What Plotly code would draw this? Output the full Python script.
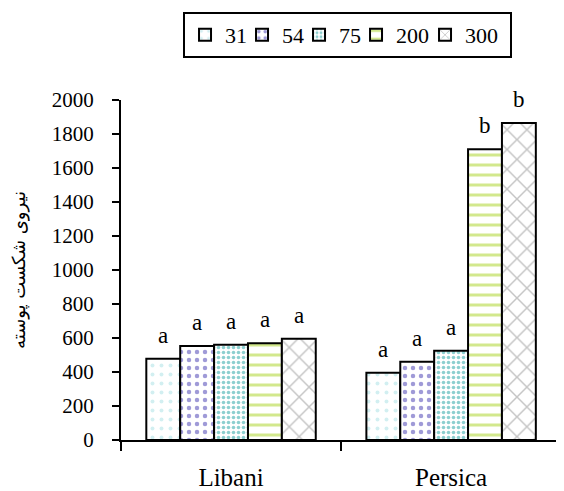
import plotly.graph_objects as go

categories = ["Libani", "Persica"]
series_names = ["31", "54", "75", "200", "300"]
values = {
    "31": [478, 396],
    "54": [553, 461],
    "75": [561, 525],
    "200": [569, 1710],
    "300": [596, 1865],
}
letters = {
    "31": ["a", "a"],
    "54": ["a", "a"],
    "75": ["a", "a"],
    "200": ["a", "b"],
    "300": ["a", "b"],
}
y_ticks = [0, 200, 400, 600, 800, 1000, 1200, 1400, 1600, 1800, 2000]
y_title = "نیروی شکست پوسته"

styles = {
    "31": dict(shape=".", fgcolor="#a6dfe3", size=9, solidity=0.15),
    "54": dict(shape=".", fgcolor="#3f35b0", size=8, solidity=0.25),
    "75": dict(shape=".", fgcolor="#1a9fa0", size=5, solidity=0.4),
    "200": dict(shape="-", fgcolor="#a6d11c", size=10, solidity=0.3),
    "300": dict(shape="x", fgcolor="#8c8c8c", size=14, solidity=0.2),
}
legend_widths = {"31": 12, "54": 12, "75": 12, "200": 24, "300": 40}

FONT = "Liberation Serif"
BARGAP = 0.23
fig = go.Figure()
n = len(series_names)
bar_w = (1 - BARGAP) / n
for i, name in enumerate(series_names):
    st = styles[name]
    fig.add_trace(go.Bar(
        name=name,
        x=categories,
        y=values[name],
        legendwidth=legend_widths[name],
        marker=dict(
            color="white",
            line=dict(color="black", width=2),
            pattern=dict(shape=st["shape"], fgcolor=st["fgcolor"], bgcolor="white",
                         size=st["size"], solidity=st["solidity"], fillmode="overlay"),
        ),
    ))
    offset = -(1 - BARGAP) / 2 + bar_w * (i + 0.5)
    for j, cat in enumerate(categories):
        fig.add_annotation(
            x=j + offset, y=values[name][j], text=letters[name][j],
            showarrow=False, yanchor="bottom", yshift=9,
            font=dict(family=FONT, size=23, color="black"),
        )

fig.update_layout(
    width=556, height=483,
    paper_bgcolor="white", plot_bgcolor="white",
    font=dict(family=FONT, size=20, color="black"),
    margin=dict(l=113, r=0, t=92, b=51, autoexpand=False),
    barmode="group", bargap=BARGAP, bargroupgap=0,
    showlegend=True,
    legend=dict(
        orientation="h", x=0.14, xanchor="left", y=1.0 + 88/340, yanchor="top",
        font=dict(family=FONT, size=22),
        bordercolor="black", borderwidth=2,
        itemwidth=30, tracegroupgap=0,
    ),
)
fig.update_xaxes(
    showline=True, linecolor="black", linewidth=2, automargin=False,
    ticks="outside", tickson="boundaries", ticklen=9, tickwidth=2, tickcolor="black",
    tickfont=dict(family=FONT, size=25), ticklabelstandoff=14,
    range=[-0.5, 1.513],
)
fig.update_yaxes(
    range=[0, 2000], tickvals=y_ticks, showgrid=False, zeroline=False, automargin=False,
    showline=True, linecolor="black", linewidth=2,
    ticks="outside", ticklen=7, tickwidth=2, tickcolor="black",
    tickfont=dict(family=FONT, size=21), ticklabelstandoff=14,
    title=dict(text=y_title, font=dict(family="DejaVu Sans", size=18), standoff=32),
)
fig.write_html("out.html")
